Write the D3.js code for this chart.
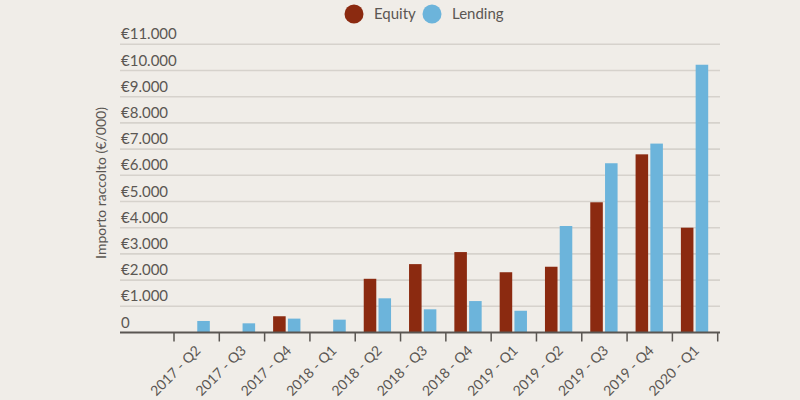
<!DOCTYPE html>
<html>
<head>
<meta charset="utf-8">
<script src="https://cdnjs.cloudflare.com/ajax/libs/d3/7.8.5/d3.min.js"></script>
<style>
  body { margin: 0; background: #f0ede8; }
  svg { display: block; font-family: Lato, sans-serif; }
</style>
</head>
<body>
<div class="chart"></div>
<script>
var quarters = ["2017 - Q2", "2017 - Q3", "2017 - Q4", "2018 - Q1", "2018 - Q2", "2018 - Q3",
                "2018 - Q4", "2019 - Q1", "2019 - Q2", "2019 - Q3", "2019 - Q4", "2020 - Q1"];
var series = ["Equity", "Lending"];
var equity = [0, 0, 620, 0, 2050, 2610, 3070, 2300, 2510, 4970, 6800, 4000];
var lending = [440, 350, 530, 490, 1305, 885, 1200, 830, 4065, 6460, 7210, 10220];
var yTicks = [0, 1000, 2000, 3000, 4000, 5000, 6000, 7000, 8000, 9000, 10000, 11000];
var colors = ["#8b2a10", "#6cb4db"];

var width = 800, height = 400;
var data = quarters.map(function (q, i) {
  return {q: q, values: [equity[i], lending[i]]};
});

var svg = d3.select(".chart").append("svg")
  .attr("width", width)
  .attr("height", height);

var x = d3.scaleBand().domain(quarters).range([174, 717.7]);
var x1 = d3.scaleBand().domain(series)
  .range([8.5, x.bandwidth() - 9.5])
  .paddingInner(0.15);
var y = d3.scaleLinear().domain([0, 11000]).range([332.5, 44.3]);
var fmt = function (v) {
  return v === 0 ? "0" : "€" + d3.format(",")(v).replace(/,/g, ".");
};

// gridlines + labels
var grid = svg.append("g");
grid.selectAll("line").data(yTicks.slice(1)).enter().append("line")
  .attr("x1", 120).attr("x2", 720)
  .attr("y1", function (d) { return y(d); })
  .attr("y2", function (d) { return y(d); })
  .attr("stroke", "#d6d2cc").attr("stroke-width", 1.6);
grid.selectAll("text").data(yTicks).enter().append("text")
  .attr("x", 121)
  .attr("y", function (d) { return y(d) - 5; })
  .attr("fill", "#5b5753")
  .style("font-size", "15px")
  .text(fmt);

svg.append("text")
  .attr("transform", "translate(106," + 183 + ") rotate(-90)")
  .attr("text-anchor", "middle")
  .attr("fill", "#5b5753")
  .style("font-size", "14px")
  .text("Importo raccolto (€/000)");

// bars
var groups = svg.selectAll(".q").data(data).enter().append("g")
  .attr("transform", function (d) { return "translate(" + x(d.q) + ",0)"; });
groups.selectAll("rect")
  .data(function (d) { return d.values.map(function (v, i) { return {s: series[i], v: v, i: i}; }); })
  .enter().append("rect")
  .attr("x", function (d) { return x1(d.s); })
  .attr("width", x1.bandwidth())
  .attr("y", function (d) { return y(d.v); })
  .attr("height", function (d) { return y(0) - y(d.v); })
  .attr("fill", function (d) { return colors[d.i]; });

// x axis
var xAxis = svg.append("g").attr("transform", "translate(0," + y(0) + ")");
xAxis.append("line")
  .attr("x1", 120).attr("x2", 720)
  .attr("stroke", "#5a5652").attr("stroke-width", 2);
var edges = quarters.map(function (q) { return x(q); }).concat([x.range()[1]]);
xAxis.selectAll(".tick").data(edges).enter().append("line")
  .attr("x1", function (d) { return d; }).attr("x2", function (d) { return d; })
  .attr("y1", 0).attr("y2", 9)
  .attr("stroke", "#5a5652").attr("stroke-width", 1.5);
xAxis.selectAll("text").data(quarters).enter().append("text")
  .attr("transform", function (d) {
    return "translate(" + (x(d) + x.bandwidth() / 2 - 2) + ",12) rotate(-45)";
  })
  .attr("text-anchor", "end")
  .attr("dy", "0.7em")
  .attr("fill", "#5b5753")
  .style("font-size", "14px")
  .text(function (d) { return d; });

// legend
var legend = svg.append("g");
var lx = [354, 432];
series.forEach(function (s, i) {
  legend.append("circle")
    .attr("cx", lx[i]).attr("cy", 14).attr("r", 9.5)
    .attr("fill", colors[i]);
  legend.append("text")
    .attr("x", lx[i] + 20).attr("y", 19)
    .attr("fill", "#5b5753")
    .style("font-size", "15px")
    .text(s);
});
</script>
</body>
</html>
